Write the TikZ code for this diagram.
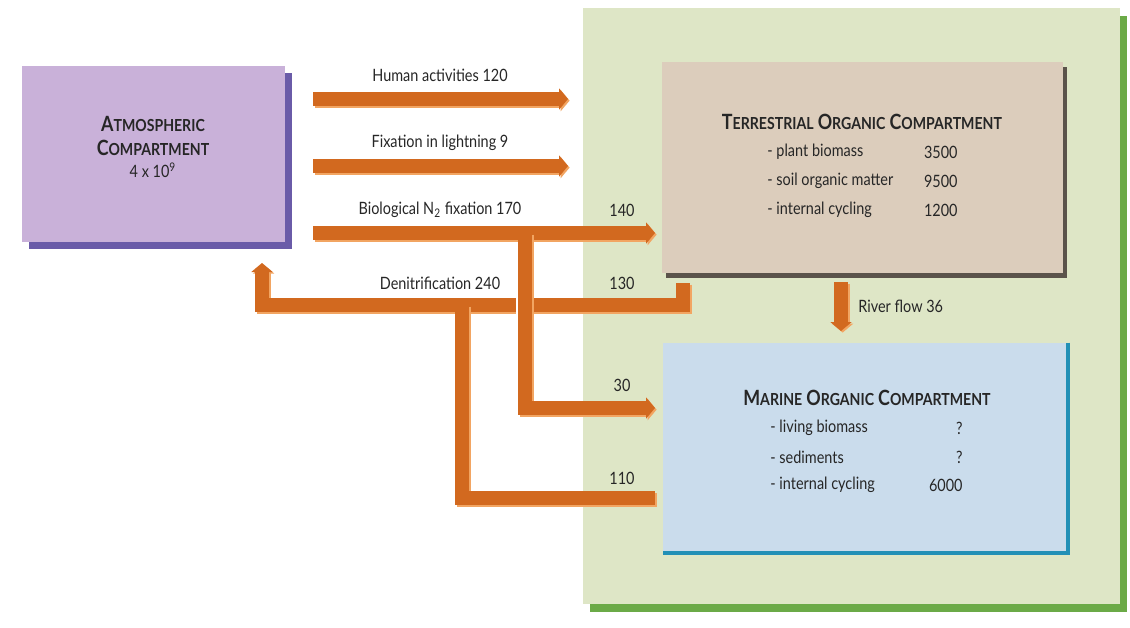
\documentclass[tikz,border=0pt]{standalone}
\usepackage{fontspec}
\setmainfont{Lato}[FakeStretch=0.85]
\usetikzlibrary{arrows.meta,calc,shadows}
\definecolor{atmfill}{HTML}{C9B1D9}
\definecolor{atmshadow}{HTML}{6A5BA8}
\definecolor{greenfill}{HTML}{DEE6C6}
\definecolor{greenshadow}{HTML}{6BAA47}
\definecolor{terrfill}{HTML}{DCCDBC}
\definecolor{terrshadow}{HTML}{5B534B}
\definecolor{marfill}{HTML}{CADCEC}
\definecolor{marline}{HTML}{2290B6}
\definecolor{flow}{HTML}{D2691F}
\definecolor{flowlight}{HTML}{F2A562}
\definecolor{ink}{HTML}{262626}
\newcommand\capsc[2]{{\fontsize{10.5}{12}\selectfont #1}{\fontsize{8.3}{10}\selectfont #2}}
\begin{document}
\begin{tikzpicture}[x=0.5pt,y=-0.5pt,
  lbl/.style={font=\fontsize{8.5}{10}\selectfont, text=ink, inner sep=0pt},
  ttl/.style={font=\bfseries, text=ink, inner sep=0pt, align=center},
  compbox/.style={inner sep=0pt, draw=none},
  shad/.style={drop shadow={shadow xshift=#1, shadow yshift=-#1, fill=.., opacity=1}},
  flowline/.style={draw=flow, line width=7pt, line cap=butt, line join=miter,
     preaction={draw=flowlight, line width=7pt, transform canvas={shift={(0.8pt,-0.8pt)}}}},
  flowarrow/.style={flowline, -{Triangle[width=10.5pt,length=4.5pt]}},
]
\useasboundingbox (0,0) rectangle (1130,627);
\fill[white] (0,0) rectangle (1130,627);

% green frame
\node[compbox, fill=greenfill, minimum width=268.5pt, minimum height=298pt,
  drop shadow={shadow xshift=3.5pt, shadow yshift=-4pt, fill=greenshadow, opacity=1}]
  (frame) at (851.5,306) {};

% atmospheric
\node[compbox, fill=atmfill, minimum width=131.5pt, minimum height=88pt,
  drop shadow={shadow xshift=3.5pt, shadow yshift=-3.5pt, fill=atmshadow, opacity=1}]
  (atm) at (153.5,154) {};
\node[ttl, font=\bfseries\linespread{0.9}\selectfont] (atmtitle) at (153,136) {\capsc{A}{TMOSPHERIC}\\[1pt]\capsc{C}{OMPARTMENT}};
\node[lbl] (atmval) at (153,170) {4 x 10\textsuperscript{9}};

% terrestrial
\node[compbox, fill=terrfill, minimum width=200.5pt, minimum height=105.5pt,
  drop shadow={shadow xshift=2pt, shadow yshift=-2.5pt, fill=terrshadow, opacity=1}]
  (terr) at (862.5,167.5) {};
\node[ttl] (terrtitle) at (862,122) {\capsc{T}{ERRESTRIAL} \capsc{O}{RGANIC} \capsc{C}{OMPARTMENT}};
\node[lbl, anchor=west] (t1) at (767,152) {- plant biomass};
\node[lbl, anchor=west] (t2) at (767,181) {- soil organic matter};
\node[lbl, anchor=west] (t3) at (767,210) {- internal cycling};
\node[lbl, anchor=east] (v1) at (958,152) {3500};
\node[lbl, anchor=east] (v2) at (958,181) {9500};
\node[lbl, anchor=east] (v3) at (958,210) {1200};

% marine
\node[compbox, fill=marfill, minimum width=202.5pt, minimum height=105pt] (mar) at (865.5,448) {};
\draw[marline, line width=2pt] (mar.north east) -- (mar.south east) -- (mar.south west);
\node[ttl] (martitle) at (867,398) {\capsc{M}{ARINE} \capsc{O}{RGANIC} \capsc{C}{OMPARTMENT}};
\node[lbl, anchor=west] (m1) at (770,428) {- living biomass};
\node[lbl, anchor=west] (m2) at (770,457) {- sediments};
\node[lbl, anchor=west] (m3) at (770,485) {- internal cycling};
\node[lbl, anchor=east] (w1) at (963,428) {?};
\node[lbl, anchor=east] (w2) at (963,457) {?};
\node[lbl, anchor=east] (w3) at (963,485) {6000};

% coordinates of flow ends
\coordinate (hs) at (313,99);   \coordinate (he) at (568,99);
\coordinate (fs) at (313,166);  \coordinate (fe) at (568,166);
\coordinate (bs) at (313,233);  \coordinate (be) at (655,233);
\coordinate (bj) at (525,233);  \coordinate (me) at (655,408);
\coordinate (ds) at (683,283);  \coordinate (dc) at (683,305);
\coordinate (de) at (262,263);  \coordinate (dj) at (462,305);
\coordinate (se) at (655,498);
\coordinate (rs) at (841,282);  \coordinate (re) at (841,331);

% denitrification and sediment branch
\draw[flowarrow] (ds) -- (dc) -- (de |- dc) -- (de);
\draw[flowline] (dj) -- (dj |- se) -- (se);
% white gap at crossing
\fill[white] (516,294) rectangle (534,316);
% human, lightning, biological
\draw[flowarrow] (hs) -- (he);
\draw[flowarrow] (fs) -- (fe);
\draw[flowarrow] (bs) -- (be);
\draw[flowarrow] (bj) -- (bj |- me) -- (me);
% river flow
\draw[flowarrow] (rs) -- (re);

% labels
\node[lbl] (lh) at (440,75) {Human activities 120};
\node[lbl] (lf) at (440,143) {Fixation in lightning 9};
\node[lbl] (lb) at (440,210) {Biological N\textsubscript{2} fixation 170};
\node[lbl] (l140) at (622,210) {140};
\node[lbl] (ld) at (440,283) {Denitrification 240};
\node[lbl] (l130) at (622,283) {130};
\node[lbl] (l30) at (622,385) {30};
\node[lbl] (l110) at (622,478) {110};
\node[lbl, anchor=west] (lr) at (858,306) {River flow 36};
\end{tikzpicture}
\end{document}
